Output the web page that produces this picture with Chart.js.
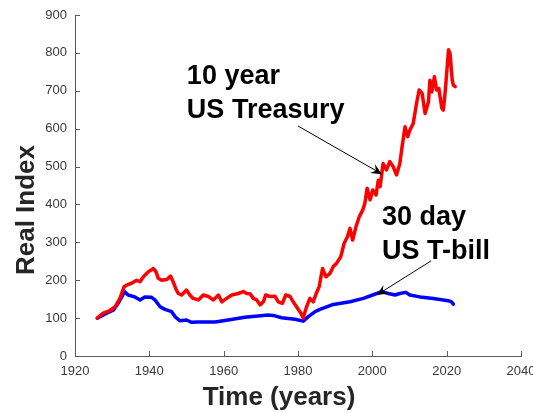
<!DOCTYPE html>
<html>
<head>
<meta charset="utf-8">
<script src="https://cdn.jsdelivr.net/npm/chart.js@4.4.1/dist/chart.umd.min.js"></script>
<style>
  html, body { margin: 0; padding: 0; background: #fff; }
  #wrap { width: 533px; height: 413px; }
</style>
</head>
<body>
<div id="wrap"><canvas id="chart" width="533" height="413"></canvas></div>
<script>
// real (inflation adjusted) growth of 100 invested in 1926
const tbondYears = [1926, 1927.6, 1929.4, 1930.8, 1932.1, 1933.2, 1933.9, 1935.2, 1936.6, 1937.5,
  1938.4, 1939.7, 1941.1, 1941.8, 1942.4, 1943.3, 1944.7, 1945.7, 1946.4, 1947.2,
  1947.8, 1948.7, 1950, 1950.9, 1951.8, 1953.2, 1954.5, 1955.9, 1957.2, 1958.6,
  1959.5, 1960.8, 1962.2, 1963.9, 1965.3, 1966.2, 1967.1, 1968, 1968.9, 1969.8,
  1970.7, 1971.3, 1972.5, 1973.8, 1974.7, 1975.8, 1976.7, 1977.9, 1978.7, 1979.6,
  1980.8, 1981.4, 1982.3, 1983.2, 1984.1, 1984.9, 1985.7, 1986.6, 1987.5, 1988.6,
  1989.5, 1990.4, 1991.5, 1992.4, 1993.3, 1994, 1994.7, 1995.6, 1996.5, 1997.4,
  1998, 1998.6, 1999.4, 2000.1, 2001, 2001.6, 2002.1, 2002.9, 2003.8, 2004.7,
  2005.6, 2006.5, 2007.4, 2008, 2008.8, 2009.5, 2010.1, 2011, 2011.9, 2012.6,
  2013.4, 2014.2, 2015.1, 2015.5, 2016, 2016.7, 2017.3, 2017.9, 2018.7, 2019.1,
  2019.6, 2020, 2020.5, 2020.9, 2021.5, 2021.8, 2022.3];
const tbondIndex = [100, 113, 120, 130, 152, 183, 187, 192, 200, 196,
  209, 222, 231, 222, 205, 200, 202, 211, 196, 176,
  165, 161, 174, 161, 152, 148, 161, 157, 148, 161,
  143, 152, 161, 165, 170, 165, 164, 152, 148, 135,
  143, 161, 157, 158, 143, 139, 161, 157, 143, 130,
  113, 100, 130, 152, 143, 165, 183, 231, 209, 218,
  236, 245, 262, 297, 315, 337, 306, 341, 368, 385,
  403, 443, 412, 438, 425, 464, 447, 508, 491, 513,
  500, 478, 508, 552, 605, 579, 596, 614, 667, 702,
  693, 640, 671, 728, 697, 737, 702, 706, 654, 649,
  697, 746, 808, 799, 728, 715, 711];

const tbillYears = [1926, 1928.5, 1930.3, 1931.6, 1932.6, 1933.3, 1934.3, 1936.1, 1937.5, 1938.8,
  1940.6, 1941.5, 1942.9, 1944.2, 1946, 1946.9, 1948.2, 1950, 1951.4, 1953.2,
  1957.7, 1961.2, 1965.7, 1972, 1973.8, 1975.6, 1979.2, 1981.4, 1982.8, 1984.6,
  1985.9, 1989.5, 1994, 1997.6, 2001.2, 2002.5, 2004.3, 2006.1, 2007.4, 2009,
  2010.1, 2012.8, 2016.4, 2019.1, 2020.4, 2021.3, 2021.8];
const tbillIndex = [100, 113, 121, 139, 156, 170, 161, 156, 148, 156,
  155, 148, 130, 123, 117, 104, 93, 95, 89, 90,
  90, 95, 102, 108, 106, 101, 97, 92, 104, 117,
  123, 136, 143, 152, 165, 170, 165, 161, 165, 168,
  161, 156, 152, 148, 146, 143, 137];

const xTicks = [1920, 1940, 1960, 1980, 2000, 2020, 2040];
const yTicks = [0, 100, 200, 300, 400, 500, 600, 700, 800, 900];

// callouts: text anchor and arrow, in data units
const callouts = [
  { lines: ['10 year', 'US Treasury'], year: 1950.1, value: 718,
    tail: [1980.0, 607], head: [2002.6, 480] },
  { lines: ['30 day', 'US T-bill'], year: 2002.6, value: 346,
    tail: [2015.8, 251], head: [2001.2, 161] }
];

const axisColor = '#5c5c5c';
const labelFont = '"Liberation Sans", Arial, Helvetica, sans-serif';

function toPoints(xs, ys) {
  return xs.map((x, i) => ({ x: x, y: ys[i] }));
}

// short tick marks pointing into the plot
const innerTicks = {
  id: 'innerTicks',
  afterDraw(chart) {
    const { ctx, chartArea, scales } = chart;
    ctx.save();
    ctx.strokeStyle = axisColor;
    ctx.lineWidth = 1;
    ctx.beginPath();
    scales.x.ticks.forEach(t => {
      const px = Math.round(scales.x.getPixelForValue(t.value)) + 0.5;
      ctx.moveTo(px, chartArea.bottom);
      ctx.lineTo(px, chartArea.bottom - 5);
    });
    scales.y.ticks.forEach(t => {
      const py = Math.round(scales.y.getPixelForValue(t.value)) + 0.5;
      ctx.moveTo(chartArea.left, py);
      ctx.lineTo(chartArea.left + 5, py);
    });
    ctx.stroke();
    ctx.restore();
  }
};

// axis titles
const axisTitles = {
  id: 'axisTitles',
  afterDraw(chart) {
    const ctx = chart.ctx;
    ctx.save();
    ctx.fillStyle = '#262626';
    ctx.font = 'bold 26px ' + labelFont;
    ctx.textAlign = 'center';
    ctx.textBaseline = 'alphabetic';
    ctx.fillText('Time (years)', 279, 405);
    ctx.translate(34, 210);
    ctx.rotate(-Math.PI / 2);
    ctx.fillText('Real Index', 0, 0);
    ctx.restore();
  }
};

function drawArrow(ctx, x1, y1, x2, y2) {
  const ang = Math.atan2(y2 - y1, x2 - x1);
  const len = 11, half = 5, back = 7;
  ctx.beginPath();
  ctx.moveTo(x1, y1);
  ctx.lineTo(x2 - Math.cos(ang) * back, y2 - Math.sin(ang) * back);
  ctx.stroke();
  const bx = x2 - Math.cos(ang) * len, by = y2 - Math.sin(ang) * len;
  const nx = -Math.sin(ang), ny = Math.cos(ang);
  ctx.beginPath();
  ctx.moveTo(x2, y2);
  ctx.lineTo(bx + nx * half, by + ny * half);
  ctx.lineTo(x2 - Math.cos(ang) * back, y2 - Math.sin(ang) * back);
  ctx.lineTo(bx - nx * half, by - ny * half);
  ctx.closePath();
  ctx.fill();
}

const calloutPlugin = {
  id: 'callouts',
  afterDatasetsDraw(chart) {
    const { ctx, scales } = chart;
    ctx.save();
    ctx.fillStyle = '#000';
    ctx.strokeStyle = '#000';
    ctx.lineWidth = 1;
    ctx.font = 'bold 27px ' + labelFont;
    ctx.textAlign = 'left';
    ctx.textBaseline = 'alphabetic';
    callouts.forEach(c => {
      const tx = scales.x.getPixelForValue(c.year);
      const ty = scales.y.getPixelForValue(c.value);
      c.lines.forEach((line, i) => ctx.fillText(line, tx, ty + i * 34));
      drawArrow(ctx,
        scales.x.getPixelForValue(c.tail[0]), scales.y.getPixelForValue(c.tail[1]),
        scales.x.getPixelForValue(c.head[0]), scales.y.getPixelForValue(c.head[1]));
    });
    ctx.restore();
  }
};

const ctx = document.getElementById('chart').getContext('2d');
const chart = new Chart(ctx, {
  type: 'line',
  data: {
    datasets: [
      {
        label: '10 year US Treasury',
        data: toPoints(tbondYears, tbondIndex),
        borderColor: '#ff0000',
        borderWidth: 3.5,
        pointRadius: 0,
        borderJoinStyle: 'round',
        borderCapStyle: 'round',
        tension: 0
      },
      {
        label: '30 day US T-bill',
        data: toPoints(tbillYears, tbillIndex),
        borderColor: '#0000ff',
        borderWidth: 3.5,
        pointRadius: 0,
        borderJoinStyle: 'round',
        borderCapStyle: 'round',
        tension: 0
      }
    ]
  },
  options: {
    responsive: false,
    animation: false,
    devicePixelRatio: 1,
    layout: { padding: { top: 15, right: 12, left: 0, bottom: 0 } },
    plugins: {
      legend: { display: false },
      tooltip: { enabled: false }
    },
    scales: {
      x: {
        type: 'linear',
        min: 1920,
        max: 2040,
        afterBuildTicks: scale => { scale.ticks = xTicks.map(v => ({ value: v })); },
        afterFit: scale => {
          scale.height = 57;
          scale.paddingLeft = 0;
          scale.paddingRight = 0;
        },
        grid: { display: true, drawOnChartArea: false, drawTicks: false },
        border: { display: true, color: axisColor, width: 1 },
        ticks: {
          padding: 8,
          color: '#3a3a3a',
          font: { family: labelFont, size: 13 },
          maxRotation: 0,
          autoSkip: false,
          callback: v => String(v)
        }
      },
      y: {
        type: 'linear',
        min: 0,
        max: 900,
        afterBuildTicks: scale => { scale.ticks = yTicks.map(v => ({ value: v })); },
        afterFit: scale => {
          scale.width = 75;
          scale.paddingTop = 0;
          scale.paddingBottom = 0;
        },
        grid: { display: true, drawOnChartArea: false, drawTicks: false },
        border: { display: true, color: axisColor, width: 1 },
        ticks: {
          padding: 8,
          color: '#3a3a3a',
          font: { family: labelFont, size: 13 },
          autoSkip: false,
          callback: v => String(v)
        }
      }
    }
  },
  plugins: [innerTicks, axisTitles, calloutPlugin]
});
</script>
</body>
</html>
